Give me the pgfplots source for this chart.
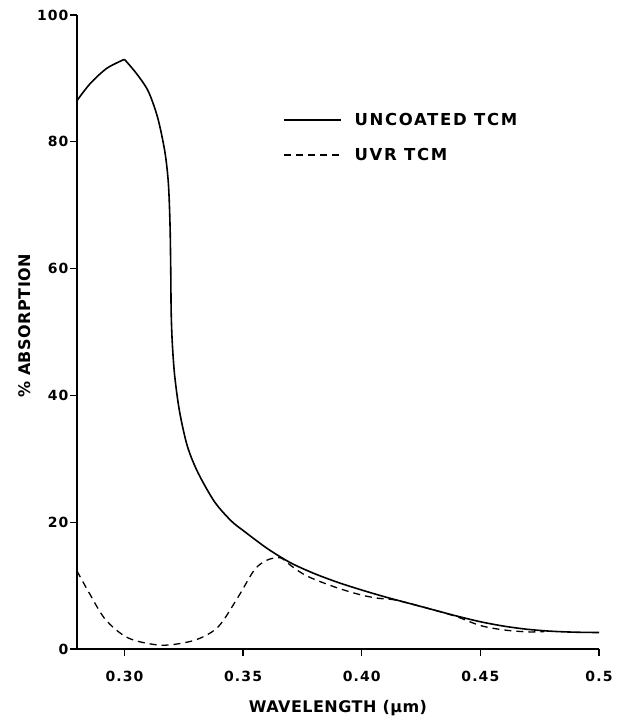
\documentclass[border=0pt]{standalone}
\usepackage{fontspec}
\setmainfont{DejaVu Sans}
\newfontfamily\tickfont[LetterSpace=8]{DejaVu Sans Bold}
\newfontfamily\lblfont[LetterSpace=3]{DejaVu Sans Bold}
\newfontfamily\legfont[LetterSpace=10]{DejaVu Sans Bold}
\usepackage{pgfplots}
\pgfplotsset{compat=1.18}
\pgfplotstableread{
x y
0.2800 86.5
0.2856 89.2
0.2926 91.6
0.3000 93.0
}\solidA
\pgfplotstableread{
x y
0.3000 93.0
0.3050 90.8
0.3100 88.0
0.3140 83.8
0.3170 78.5
0.3185 73.5
0.3192 67.0
0.3195 60.0
0.3197 53.0
0.3202 48.0
0.3212 43.0
0.3232 37.5
0.3265 32.0
0.3310 27.8
0.3380 23.2
0.3450 20.2
0.3500 18.7
0.3600 15.9
0.3700 13.6
0.3800 11.9
0.3900 10.5
0.4000 9.3
0.4100 8.2
0.4200 7.2
0.4300 6.2
0.4400 5.2
0.4500 4.3
0.4600 3.6
0.4700 3.1
0.4800 2.8
0.4900 2.65
0.5000 2.6
}\solidB
\pgfplotstableread{
x y
0.2800 12.3
0.2852 8.8
0.2921 4.6
0.3018 1.7
0.3158 0.6
0.3297 1.4
0.3395 3.5
0.3479 8.2
0.3548 12.5
0.3600 14.0
0.3656 14.4
0.3700 13.2
0.3750 11.9
0.3800 11.0
0.3900 9.6
0.4000 8.5
0.4070 8.0
0.4130 7.8
0.4200 7.2
0.4300 6.2
0.4400 5.1
0.4500 3.7
0.4600 3.0
0.4700 2.7
0.4770 2.75
}\uvr
\begin{document}
\begin{tikzpicture}
\begin{axis}[
  at={(0pt,0pt)}, anchor=south west,
  scale only axis, width=522pt, height=634pt,
  xmin=0.28, xmax=0.5, ymin=0, ymax=100,
  clip=false,
  axis x line=bottom, axis y line=left,
  x axis line style={-, line width=1.8pt},
  y axis line style={-, line width=1.8pt},
  tick align=outside,
  major tick length=7pt,
  major tick style={line width=1.3pt, draw=black},
  xtick={0.30,0.35,0.40,0.45,0.5},
  xticklabels={0.30,0.35,0.40,0.45,0.5},
  ytick={0,20,40,60,80,100},
  yticklabels={0,20,40,60,80,100},
  xticklabel style={font=\fontsize{14}{15}\tickfont, yshift=-12pt},
  yticklabel style={font=\fontsize{14}{15}\tickfont, xshift=2pt},
  xlabel={WAVELENGTH (µm)},
  ylabel={\% ABSORPTION},
  xlabel style={font=\fontsize{16}{18}\lblfont, at={(axis description cs:0.5,-0.1002)}, anchor=base},
  ylabel style={font=\fontsize{16}{18}\lblfont, at={(axis description cs:-0.0996,0.5095)}, anchor=center},
  legend style={draw=none, fill=none, at={(axis description cs:0.3946,0.8068)}, anchor=west,
    inner sep=0pt, outer sep=0pt, row sep=21pt, column sep=0pt,
    font=\fontsize{16.5}{18}\legfont, nodes={inner sep=0pt, anchor=west}},
  legend image code/.code={\draw[#1] (0pt,0pt) -- (57pt,0pt);},
  legend cell align=left,
  legend style={/tikz/every odd column/.append style={column sep=13pt}},
]
\addplot[black, line width=1.6pt, smooth, tension=0.5, forget plot] table[x=x,y=y] {\solidA};
\addplot[black, line width=1.6pt, smooth, tension=0.5] table[x=x,y=y] {\solidB};
\addlegendentry{UNCOATED TCM}
\addplot[black, line width=1.3pt, dash pattern=on 7pt off 5pt, smooth, tension=0.5] table[x=x,y=y] {\uvr};
\addlegendentry{UVR TCM}
\pgfplotsinvokeforeach{0.30,0.35,0.40,0.45,0.5}{
  \draw[black, line width=1.3pt] (axis cs:#1,0) -- ++(0pt,-7pt);
}
\pgfplotsinvokeforeach{0,20,40,60,80,100}{
  \draw[black, line width=1.3pt] (axis cs:0.28,#1) -- ++(-7pt,0pt);
}
\end{axis}
\path[use as bounding box] (-77pt,-73pt) rectangle (546pt,649pt);
\end{tikzpicture}
\end{document}
